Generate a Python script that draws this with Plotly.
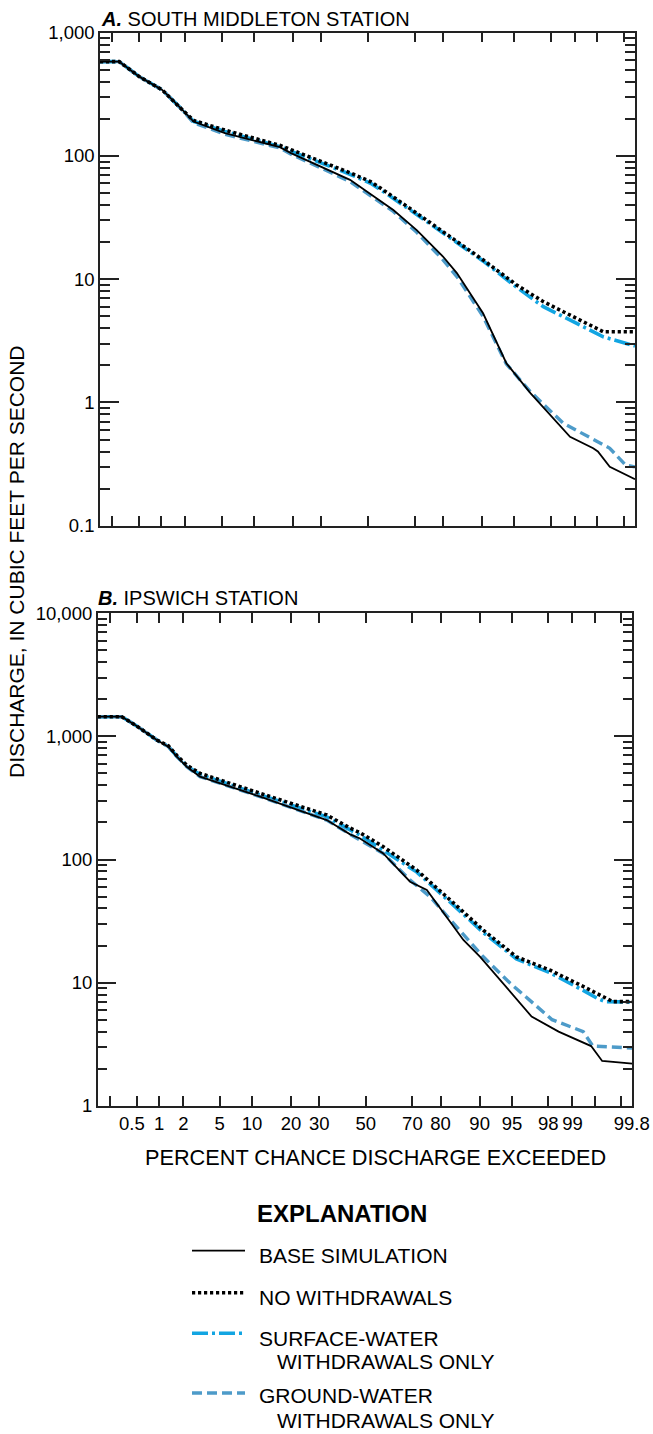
import plotly.graph_objects as go
from statistics import NormalDist

W, H = 653, 1434
nd = NormalDist()


def zc(p):
    return nd.inv_cdf(p / 100.0)


# ---------------- data (percent exceedance, discharge cfs) ----------------
# Panel A: South Middleton
a_base_p = [0.13, 0.26, 0.51, 1.04, 1.78, 2.5, 5.4, 16.1, 19.5, 26.9, 42, 61.2, 70.8,
            80.1, 84.1, 90.2, 94.0, 96.6, 98.84, 99.43, 99.51, 99.67, 99.865]
a_base_v = [582, 582, 440, 343, 243, 190, 153, 118, 105, 87, 64, 36.4, 25,
            15.2, 11.2, 5.29, 2.08, 1.19, 0.527, 0.425, 0.40, 0.30, 0.238]

a_none_p = [0.13, 0.26, 0.51, 1.04, 1.78, 2.5, 5.4, 16.1, 19.5, 26.9, 42, 51.2, 56.8,
            70.8, 82.2, 90.25, 95.26, 97.56, 99.22, 99.59, 99.865]
a_none_v = [582, 582, 440, 343, 243, 194, 162, 122, 112, 95.7, 73, 61.8, 53,
            34.3, 22.1, 14.3, 8.97, 6.57, 4.52, 3.75, 3.75]

a_surf_p = [0.13, 0.26, 0.51, 1.04, 1.78, 2.5, 5.4, 16.1, 19.5, 26.9, 42, 51.2, 56.8,
            70.8, 82.2, 90.25, 95.26, 97.56, 99.22, 99.59, 99.865]
a_surf_v = [582, 582, 440, 343, 243, 191, 158, 119, 109, 93, 71, 60, 51.5,
            33.5, 21.6, 14.0, 8.6, 5.98, 4.12, 3.41, 2.87]

a_gw_p = [0.13, 0.26, 0.51, 1.04, 1.78, 2.5, 5.4, 16.1, 19.5, 26.9, 42, 61.2, 70.8,
          80.1, 84.1, 90.2, 94.0, 96.6, 98.59, 99.67, 99.81, 99.865]
a_gw_v = [582, 582, 440, 343, 243, 186, 150, 116, 103, 85, 62, 35.5, 24,
          14.3, 10.5, 5.0, 2.05, 1.22, 0.678, 0.425, 0.31, 0.30]

# Panel B: Ipswich
b_base_p = [0.127, 0.3, 0.495, 0.93, 1.31, 1.67, 2.19, 3.1, 11.7, 33, 43, 47.4, 57.8,
            69.1, 75.4, 81.9, 86.4, 90.1, 93, 96.9, 98.5, 99.44, 99.61, 99.865]
b_base_v = [1445, 1445, 1216, 935, 826, 684, 567, 471, 324, 209, 160, 148, 112,
            66, 56.5, 34.3, 22.2, 16.2, 11.2, 5.3, 4.0, 3.05, 2.31, 2.2]

b_none_p = [0.127, 0.3, 0.495, 0.93, 1.31, 1.67, 2.19, 3.1, 11.7, 33, 43, 47.4, 57.8,
            71.7, 82.9, 90.7, 95.5, 98.1, 99.29, 99.63, 99.73, 99.865]
b_none_v = [1445, 1445, 1216, 935, 840, 700, 585, 501, 345, 230, 180, 165, 127,
            82, 46.9, 26.7, 16.2, 12.6, 9.27, 7.67, 7.0, 7.0]

b_surf_p = [0.127, 0.3, 0.495, 0.93, 1.31, 1.67, 2.19, 3.1, 11.7, 33, 43, 47.4, 57.8,
            71.7, 82.9, 90.7, 95.5, 98.1, 99.29, 99.54, 99.65, 99.865]
b_surf_v = [1445, 1445, 1216, 935, 830, 690, 575, 490, 335, 222, 174, 158, 119,
            79, 45, 25.5, 15.6, 12.0, 8.6, 7.45, 7.0, 6.95]

b_gw_p = [0.127, 0.3, 0.495, 0.93, 1.31, 1.67, 2.19, 3.1, 11.7, 33, 43, 57.8, 69.1,
          76.5, 82.9, 90.7, 94.8, 98.2, 99.28, 99.47, 99.865]
b_gw_v = [1445, 1445, 1216, 935, 826, 684, 567, 471, 324, 209, 160, 112, 68,
          49.9, 32.4, 16.2, 9.87, 5.0, 4.0, 3.05, 2.94]

x_ticks = [0.2, 0.5, 1, 2, 5, 10, 20, 30, 50, 70, 80, 90, 95, 98, 99, 99.5, 99.8]
x_ticktext = ["", "0.5\u00a0\u00a0", "1", "2", "5", "10", "20", "30", "50", "70", "80",
              "90", "95", "98", "99", "", "\u00a0\u00a0\u00a0\u00a099.8"]

a_yticks = [0.1, 1, 10, 100, 1000]
a_yticktext = ["0.1", "1", "10", "100", "1,000"]
b_yticks = [1, 10, 100, 1000, 10000]
b_yticktext = ["1", "10", "100", "1,000", "10,000"]

# ---------------- styles ----------------
FONT = "Liberation Sans, Arial, Helvetica, sans-serif"
C_SURF = "#12A5E2"
C_GW = "#4D9BC9"
AXC = "#222222"

st_base = dict(color="black", width=1.8)
st_none = dict(color="black", width=3.6, dash="3.2px,2.8px")
st_surf = dict(color=C_SURF, width=3.6, dash="16px,4px,3px,4px")
st_gw = dict(color=C_GW, width=3.4, dash="10px,5px")

fig = go.Figure()


def add(xa, ya, p, v, st):
    fig.add_trace(go.Scatter(x=[zc(q) for q in p], y=v, xaxis=xa, yaxis=ya,
                             mode="lines", line=st, showlegend=False,
                             hoverinfo="skip"))


for xa, ya, sets in [
    ("x", "y", [(a_surf_p, a_surf_v, st_surf), (a_gw_p, a_gw_v, st_gw),
                (a_base_p, a_base_v, st_base), (a_none_p, a_none_v, st_none)]),
    ("x2", "y2", [(b_surf_p, b_surf_v, st_surf), (b_gw_p, b_gw_v, st_gw),
                  (b_base_p, b_base_v, st_base), (b_none_p, b_none_v, st_none)]),
]:
    for p, v, st in sets:
        add(xa, ya, p, v, st)


def px(x):
    return x / W


def py(y):
    return 1 - y / H


def minor_vals(lo, hi):
    out = []
    for e in range(lo, hi):
        for d in range(2, 10):
            out.append(d * 10 ** e)
    return out


def yaxis(domain, rng, tv, tt, anchor):
    return dict(domain=domain, type="log", range=rng, tickmode="array",
                tickvals=tv, ticktext=tt, ticks="inside", ticklen=19,
                tickwidth=1.5, tickcolor=AXC, showline=True, linewidth=1.5,
                linecolor=AXC, mirror="ticks", showgrid=False, zeroline=False,
                anchor=anchor, automargin=False,
                tickfont=dict(size=18.5, color="black", family=FONT),
                minor=dict(tickmode="array",
                           tickvals=minor_vals(int(rng[0]), int(rng[1])),
                           ticks="inside", ticklen=10, tickwidth=1.5,
                           tickcolor=AXC, showgrid=False))


def xaxis(domain, rng, anchor, labels):
    return dict(domain=domain, range=rng, tickmode="array",
                tickvals=[zc(t) for t in x_ticks], ticktext=x_ticktext,
                showticklabels=labels, ticks="inside", ticklen=10, tickwidth=1.5,
                tickcolor=AXC, showline=True, linewidth=1.5, linecolor=AXC,
                mirror="ticks", showgrid=False, zeroline=False, anchor=anchor,
                tickangle=0, automargin=False,
                tickfont=dict(size=18.5, color="black", family=FONT))


fig.update_layout(
    width=W, height=H, margin=dict(l=0, r=0, t=0, b=0, autoexpand=False),
    paper_bgcolor="white", plot_bgcolor="white",
    font=dict(family=FONT, color="black"),
    xaxis=xaxis([px(100), px(635)], [-3.011, 3.0], "y", False),
    yaxis=yaxis([py(525.7), py(32.7)], [-1, 3], a_yticks, a_yticktext, "x"),
    xaxis2=xaxis([px(97.7), px(632.3)], [-3.018, 3.0], "y2", True),
    yaxis2=yaxis([py(1105.7), py(613.3)], [0, 4], b_yticks, b_yticktext, "x2"),
)

ann = []


def text(x, y, s, size=20, xanchor="left", yanchor="middle", **kw):
    ann.append(dict(x=px(x), y=py(y), xref="paper", yref="paper", text=s,
                    showarrow=False, xanchor=xanchor, yanchor=yanchor,
                    font=dict(size=size, family=FONT, color="black"), **kw))


LF = 21
text(99, 18.5, "<b><i>A.</i></b> SOUTH MIDDLETON STATION")
text(96, 598, "<b><i>B.</i></b> IPSWICH STATION")
text(375, 1157, "PERCENT CHANCE DISCHARGE EXCEEDED", size=21.7, xanchor="center")
text(16, 562, "DISCHARGE, IN CUBIC FEET PER SECOND", size=21, xanchor="center",
     textangle=-90)
text(342, 1213, "<b>EXPLANATION</b>", size=24, xanchor="center")
text(257, 1255, "BASE SIMULATION", size=LF)
text(257, 1297, "NO WITHDRAWALS", size=LF)
text(257, 1338, "SURFACE-WATER", size=LF)
text(275, 1361, "WITHDRAWALS ONLY", size=LF)
text(257, 1395, "GROUND-WATER", size=LF)
text(275, 1434, "WITHDRAWALS ONLY", size=LF, yanchor="bottom")
fig.update_layout(annotations=ann)

shapes = []
for yy, st in [(1250.7, st_base), (1292.7, st_none), (1333.3, st_surf), (1393, st_gw)]:
    shapes.append(dict(type="line", xref="paper", yref="paper", x0=px(192), x1=px(245),
                       y0=py(yy), y1=py(yy), line=st))
fig.update_layout(shapes=shapes)

fig.write_html("out.html")
